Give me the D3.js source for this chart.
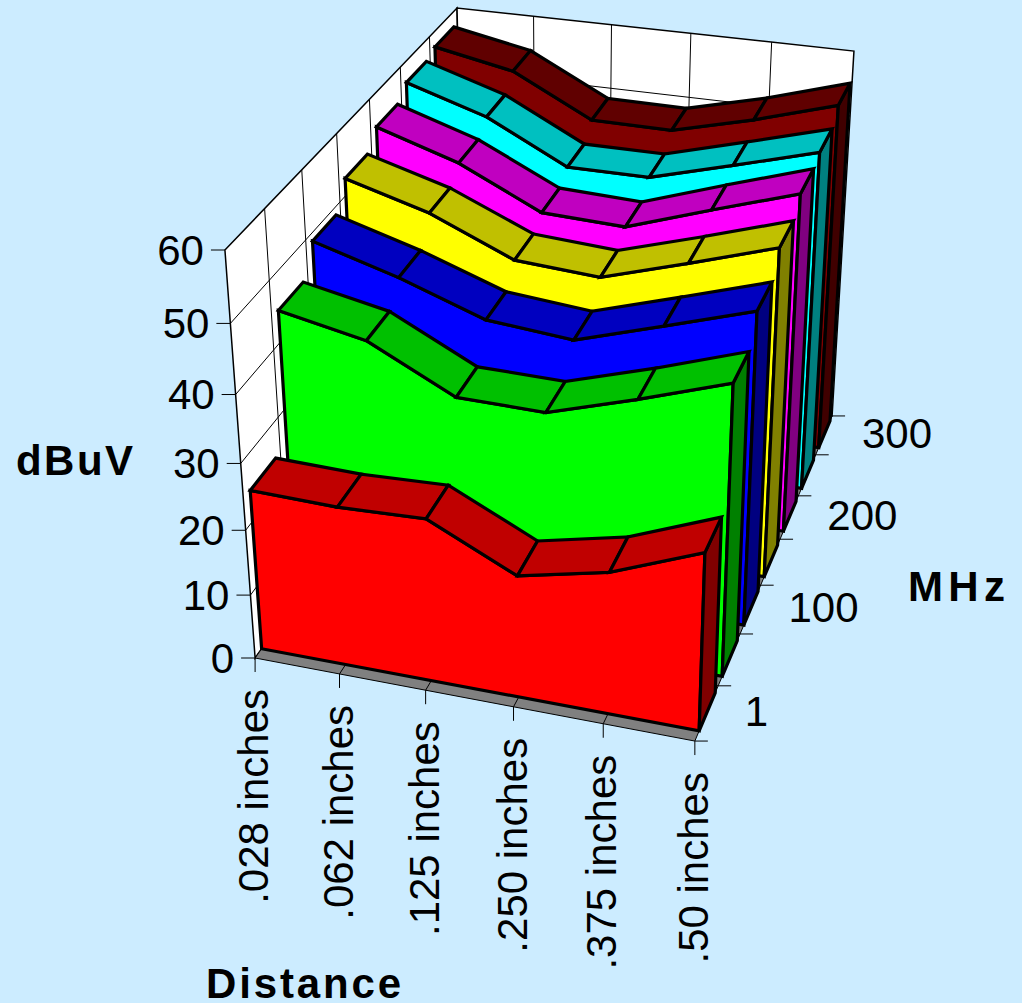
<!DOCTYPE html>
<html>
<head>
<meta charset="utf-8">
<style>
  body { margin: 0; background: #CCECFF; }
  text { font-family: "Liberation Sans", Arial, sans-serif; fill: #000; }
  .tick-label { font-size: 42px; }
  .axis-title { font-size: 42px; font-weight: bold; }
</style>
<script src="https://cdn.jsdelivr.net/npm/d3@7"></script>
</head>
<body>
<svg id="chart" width="1022" height="1003"></svg>
<script>
const distances = [".028 inches", ".062 inches", ".125 inches", ".250 inches", ".375 inches", ".50 inches"];
const freqs = ["1", "50", "100", "150", "200", "250", "300"];
const freqTickLabels = ["1", "100", "200", "300"];
const valueTicks = [0, 10, 20, 30, 40, 50, 60];

const mhz1 = [24.7, 24.4, 24.9, 18.7, 21.6, 26.8];
const mhz50 = [44.6, 42.1, 35.8, 35.6, 39.5, 43.8];
const mhz100 = [48.8, 45.2, 40.8, 39.7, 43.6, 47.6];
const mhz150 = [52.5, 49.0, 43.7, 42.9, 46.7, 50.7];
const mhz200 = [55.0, 51.1, 45.2, 44.7, 48.9, 52.9];
const mhz250 = [56.8, 53.0, 46.8, 46.8, 50.2, 53.7];
const mhz300 = [57.6, 55.2, 49.0, 48.9, 52.0, 55.7];
const seriesValues = [mhz1, mhz50, mhz100, mhz150, mhz200, mhz250, mhz300];

const frontColors = ["#FF0000", "#00FF00", "#0000FF", "#FFFF00", "#FF00FF", "#00FFFF", "#800000"];
const topColors = ["#C00000", "#00C000", "#0000C0", "#C0C000", "#C000C0", "#00C0C0", "#600000"];
const endColors = ["#800000", "#008000", "#000080", "#808000", "#800080", "#008080", "#400000"];

// box corners on screen, [x, y, z] of the unit box -> pixel, used to fit the camera
const boxCorners = [
  [0, 0, 0, 255, 658], [1, 0, 0, 695, 741], [1, 1, 0, 832, 416], [0, 1, 0, 465, 361],
  [0, 0, 1, 225, 250], [1, 0, 1, 708, 318], [1, 1, 1, 854, 51], [0, 1, 1, 457, 8]
];

function solve(M, b) {
  const n = b.length;
  const a = M.map((r, i) => [...r, b[i]]);
  for (let c = 0; c < n; c++) {
    let p = c;
    for (let r = c + 1; r < n; r++) if (Math.abs(a[r][c]) > Math.abs(a[p][c])) p = r;
    [a[c], a[p]] = [a[p], a[c]];
    for (let r = 0; r < n; r++) {
      if (r === c) continue;
      const f = a[r][c] / a[c][c];
      for (let k = c; k <= n; k++) a[r][k] -= f * a[c][k];
    }
  }
  return a.map((r, i) => r[n] / r[i]);
}

// least squares fit of the 3x4 projection matrix
function fitCamera(corners) {
  const rows = [], rhs = [];
  corners.forEach(([u, v, w, px, py]) => {
    const x = px / 1000, y = py / 1000;
    rows.push([u, v, w, 1, 0, 0, 0, 0, -x * u, -x * v, -x * w]); rhs.push(x);
    rows.push([0, 0, 0, 0, u, v, w, 1, -y * u, -y * v, -y * w]); rhs.push(y);
  });
  const ata = d3.range(11).map(i => d3.range(11).map(j => d3.sum(rows, r => r[i] * r[j])));
  const atb = d3.range(11).map(i => d3.sum(rows, (r, k) => r[i] * rhs[k]));
  return solve(ata, atb);
}

const cam = fitCamera(boxCorners);
const project = (u, v, w) => {
  const d = cam[8] * u + cam[9] * v + cam[10] * w + 1;
  return [
    1000 * (cam[0] * u + cam[1] * v + cam[2] * w + cam[3]) / d,
    1000 * (cam[4] * u + cam[5] * v + cam[6] * w + cam[7]) / d
  ];
};

const xScale = d3.scalePoint().domain(distances).range([0, 1]);
const zScale = d3.scaleBand().domain(freqs).range([0, 1]).paddingInner(0.31).paddingOuter(0.155).align(0.58);
const yScale = d3.scaleLinear().domain([0, 60]).range([0, 1]);
const zEdges = d3.range(freqs.length + 1).map(i => i * zScale.step());

const svg = d3.select("#chart");
const line = d3.line();
const poly = pts => line(pts) + "Z";

function addLine(g, a, b, width) {
  g.append("path").attr("d", line([a, b]))
    .attr("fill", "none").attr("stroke", "#000").attr("stroke-width", width);
}

// walls and floor
const walls = svg.append("g");
walls.append("path")
  .attr("d", poly([project(0, 0, 0), project(0, 1, 0), project(0, 1, 1), project(0, 0, 1)]))
  .attr("fill", "#fff").attr("stroke", "#000").attr("stroke-width", 1.5);
walls.append("path")
  .attr("d", poly([project(0, 1, 0), project(1, 1, 0), project(1, 1, 1), project(0, 1, 1)]))
  .attr("fill", "#fff").attr("stroke", "#000").attr("stroke-width", 1.5);
walls.append("path")
  .attr("d", poly([project(0, 0, 0), project(1, 0, 0), project(1, 1, 0), project(0, 1, 0)]))
  .attr("fill", "#808080").attr("stroke", "#000").attr("stroke-width", 1);

valueTicks.slice(1, -1).forEach(t => {
  const w = yScale(t);
  addLine(walls, project(0, 0, w), project(0, 1, w), 1);
  addLine(walls, project(0, 1, w), project(1, 1, w), 1);
});
zEdges.slice(1, -1).forEach(v => {
  addLine(walls, project(0, v, 0), project(0, v, 1), 1);
  addLine(walls, project(0, v, 0), project(1, v, 0), 1);
});
distances.slice(1, -1).forEach(d => {
  const u = xScale(d);
  addLine(walls, project(u, 1, 0), project(u, 1, 1), 1);
  addLine(walls, project(u, 0, 0), project(u, 1, 0), 1);
});

// ribbons, back one first so the nearer ones cover it
const ribbons = svg.append("g")
  .attr("stroke", "#000").attr("stroke-width", 3.2)
  .attr("stroke-linejoin", "miter").attr("stroke-miterlimit", 4);

d3.range(freqs.length - 1, -1, -1).forEach(i => {
  const v0 = zScale(freqs[i]);
  const v1 = v0 + zScale.bandwidth();
  const vals = seriesValues[i];
  const g = ribbons.append("g");

  const us = distances.map(d => xScale(d));
  const front = us.map((u, k) => project(u, v0, yScale(vals[k])));
  g.append("path")
    .attr("d", poly([project(0, v0, 0), ...front, project(1, v0, 0)]))
    .attr("fill", frontColors[i]);

  g.append("path")
    .attr("d", poly([project(1, v0, 0), project(1, v1, 0), project(1, v1, yScale(vals[5])), project(1, v0, yScale(vals[5]))]))
    .attr("fill", endColors[i]);

  d3.pairs(d3.range(distances.length)).forEach(([a, b]) => {
    g.append("path")
      .attr("d", poly([
        project(us[a], v0, yScale(vals[a])), project(us[b], v0, yScale(vals[b])),
        project(us[b], v1, yScale(vals[b])), project(us[a], v1, yScale(vals[a]))
      ]))
      .attr("fill", topColors[i]);
  });
});

// ticks and labels
const axes = svg.append("g");

valueTicks.forEach(t => {
  const [x, y] = project(0, 0, yScale(t));
  addLine(axes, [x - 14, y], [x, y], 1);
  axes.append("text").attr("class", "tick-label")
    .attr("x", x - 21).attr("y", y).attr("dy", "0.35em")
    .attr("text-anchor", "end").text(t);
});

distances.forEach(d => {
  const [x, y] = project(xScale(d), 0, 0);
  addLine(axes, [x, y], [x, y + 14], 1);
  axes.append("text").attr("class", "tick-label")
    .attr("transform", `translate(${x + 13},${y + 31}) rotate(-90)`)
    .attr("text-anchor", "end").text(d);
});

zEdges.forEach(v => {
  const [x, y] = project(1, v, 0);
  addLine(axes, [x, y], [x + 13, y], 1);
});

freqTickLabels.forEach(f => {
  const [x, y] = project(1, zScale.step() * (freqs.indexOf(f) + 0.5), 0);
  axes.append("text").attr("class", "tick-label")
    .attr("x", x + 38).attr("y", y - 2).attr("dy", "0.35em").text(f);
});

axes.append("text").attr("class", "axis-title").attr("x", 16).attr("y", 475)
  .attr("textLength", 117).attr("lengthAdjust", "spacing").text("dBuV");
axes.append("text").attr("class", "axis-title").attr("x", 908).attr("y", 601)
  .attr("textLength", 97).attr("lengthAdjust", "spacing").text("MHz");
axes.append("text").attr("class", "axis-title").attr("x", 206).attr("y", 998)
  .attr("textLength", 195).attr("lengthAdjust", "spacing").text("Distance");
</script>
</body>
</html>
